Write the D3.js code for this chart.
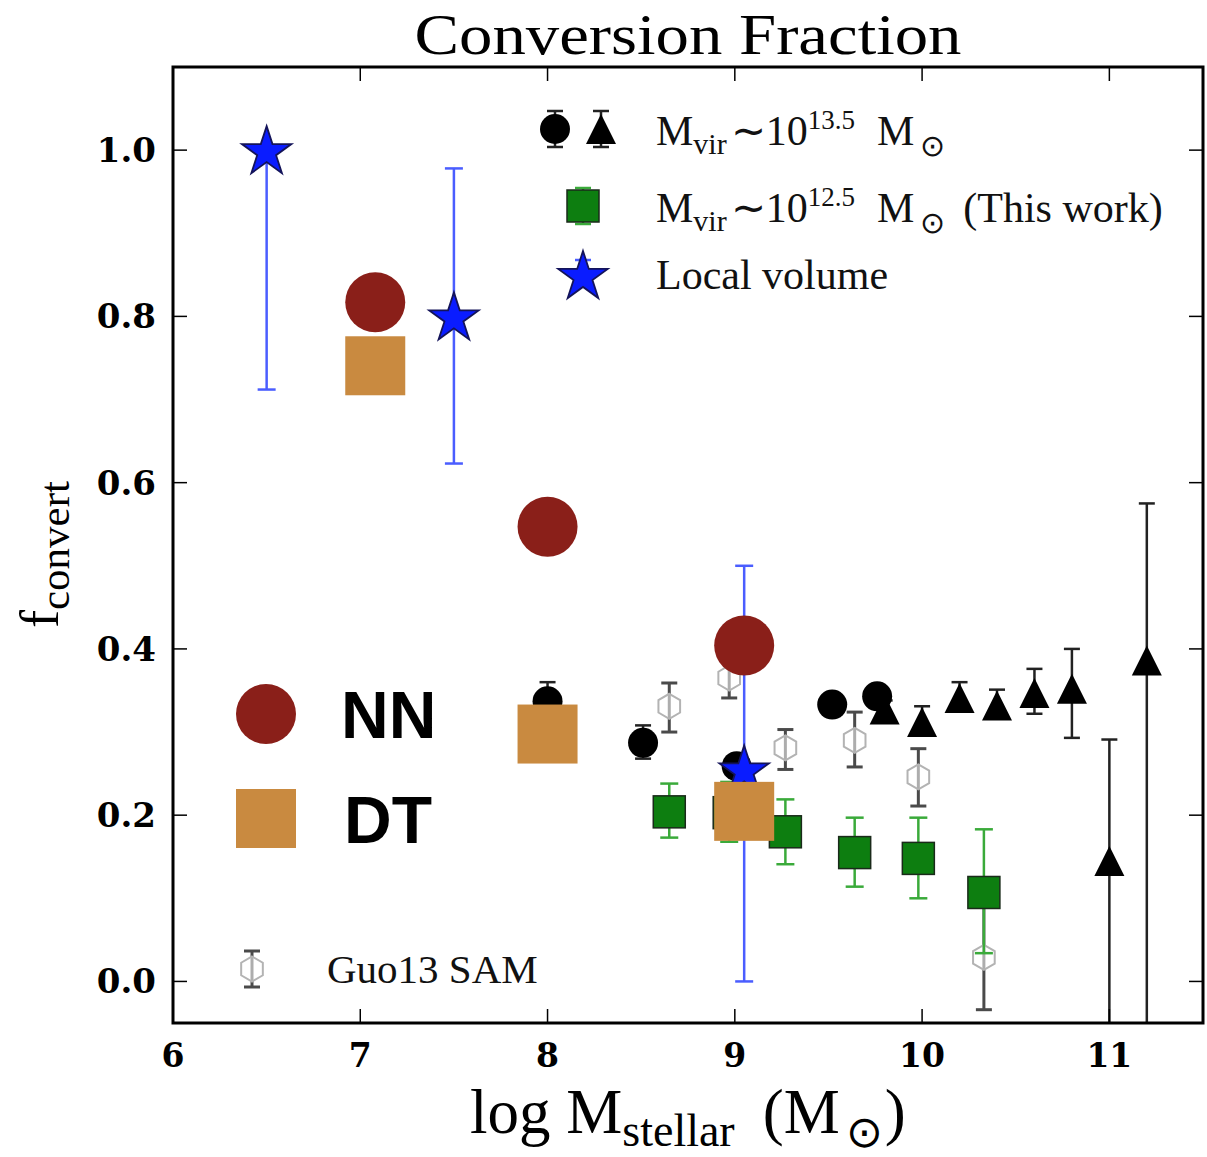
<!DOCTYPE html>
<html>
<head>
<meta charset="utf-8">
<script src="https://cdn.jsdelivr.net/npm/d3@7/dist/d3.min.js"></script>
<style>
  html, body { margin: 0; padding: 0; background: #fff; }
  svg { display: block; }
</style>
</head>
<body>
<svg id="chart" width="1207" height="1157"></svg>
<script>
// ---- data -------------------------------------------------------------
// Mvir ~ 10^13.5 groups: circles
const groupCircleX  = [8.0, 8.51, 9.01, 9.52, 9.76];
const groupCircleY  = [0.337, 0.287, 0.259, 0.333, 0.343];
const groupCircleLo = [0.315, 0.268, 0.245, 0.320, 0.330];
const groupCircleHi = [0.360, 0.308, 0.272, 0.346, 0.356];
// Mvir ~ 10^13.5 groups: triangles
const groupTriX  = [9.8, 10.0, 10.2, 10.4, 10.6, 10.8, 11.0, 11.2];
const groupTriY  = [0.327, 0.312, 0.341, 0.332, 0.347, 0.352, 0.145, 0.386];
const groupTriLo = [0.315, 0.300, 0.330, 0.320, 0.322, 0.293, -0.10, -0.10];
const groupTriHi = [0.338, 0.331, 0.360, 0.351, 0.376, 0.400, 0.291, 0.575];
// Mvir ~ 10^12.5 (this work): green squares
const thisWorkX  = [8.65, 8.97, 9.27, 9.64, 9.98, 10.33];
const thisWorkY  = [0.204, 0.203, 0.180, 0.155, 0.148, 0.107];
const thisWorkLo = [0.173, 0.168, 0.141, 0.114, 0.100, 0.034];
const thisWorkHi = [0.238, 0.240, 0.219, 0.197, 0.197, 0.183];
// Local volume: stars
const localX  = [6.5, 7.5, 9.05];
const localY  = [1.0, 0.8, 0.255];
const localLo = [0.712, 0.623, 0.0];
const localHi = [1.0, 0.978, 0.5];
// Guo13 SAM: open hexagons
const samX  = [8.65, 8.97, 9.27, 9.64, 9.98, 10.33];
const samY  = [0.331, 0.365, 0.281, 0.290, 0.246, 0.029];
const samLo = [0.300, 0.341, 0.255, 0.258, 0.211, -0.034];
const samHi = [0.359, 0.390, 0.303, 0.324, 0.280, 0.100];
// NN and DT estimates
const nnX = [7.08, 8.0, 9.05];
const nnY = [0.817, 0.547, 0.404];
const dtX = [7.08, 8.0, 9.05];
const dtY = [0.740, 0.297, 0.204];
// axis ticks
const xTicks = [6, 7, 8, 9, 10, 11];
const yTicks = [0.0, 0.2, 0.4, 0.6, 0.8, 1.0];

// ---- layout ------------------------------------------------------------
const svg = d3.select("#chart");
const boxL = 173, boxR = 1203, boxT = 67, boxB = 1023;
const x = d3.scaleLinear().domain([6, 11.5]).range([boxL, boxR]);
const y = d3.scaleLinear().domain([-0.05, 1.1]).range([boxB, boxT]);

const serif = "'Liberation Serif', 'Times New Roman', serif";
const boldSerif = "'DejaVu Serif', serif";

const colNN = "#8a1f19", colDT = "#c98a40";
const colGreen = "#0d7e10", colGreenErr = "#3aaa3a";
const colStar = "#0a1cff", colStarErr = "#4a5dff";

function zip(xs, ys, lo, hi) {
  return xs.map((v, i) => ({x: v, y: ys[i], lo: lo ? lo[i] : null, hi: hi ? hi[i] : null}));
}

function starPath(R) {
  const r = R * 0.382, pts = [];
  for (let i = 0; i < 10; i++) {
    const a = -Math.PI / 2 + i * Math.PI / 5;
    const rr = i % 2 === 0 ? R : r;
    pts.push([rr * Math.cos(a), rr * Math.sin(a)]);
  }
  return "M" + pts.map(p => p.join(",")).join("L") + "Z";
}
function hexPath(r) {
  const pts = [];
  for (let i = 0; i < 6; i++) {
    const a = -Math.PI / 2 + i * Math.PI / 3;
    pts.push([r * Math.cos(a), r * Math.sin(a)]);
  }
  return "M" + pts.map(p => p.join(",")).join("L") + "Z";
}
function triPath(s) {
  return `M0,${-s/2}L${s/2},${s/2}L${-s/2},${s/2}Z`;
}

// clip to the axes box
svg.append("defs").append("clipPath").attr("id", "plotClip")
  .append("rect").attr("x", boxL).attr("y", boxT)
  .attr("width", boxR - boxL).attr("height", boxB - boxT);

const plot = svg.append("g").attr("clip-path", "url(#plotClip)");

function errorBars(g, data, color, width, capHalf) {
  const eg = g.append("g");
  eg.selectAll("line.v").data(data).join("line")
    .attr("x1", d => x(d.x)).attr("x2", d => x(d.x))
    .attr("y1", d => y(d.lo)).attr("y2", d => y(d.hi))
    .attr("stroke", color).attr("stroke-width", width);
  const caps = [];
  data.forEach(d => { caps.push({x: d.x, v: d.lo}); caps.push({x: d.x, v: d.hi}); });
  eg.selectAll("line.c").data(caps).join("line")
    .attr("x1", d => x(d.x) - capHalf).attr("x2", d => x(d.x) + capHalf)
    .attr("y1", d => y(d.v)).attr("y2", d => y(d.v))
    .attr("stroke", color).attr("stroke-width", width);
}

// Guo13 SAM
const sam = zip(samX, samY, samLo, samHi);
errorBars(plot, sam, "#4a4a4a", 3, 8);
plot.append("g").selectAll("path").data(sam).join("path")
  .attr("d", hexPath(12.5))
  .attr("transform", d => `translate(${x(d.x)},${y(d.y)})`)
  .attr("fill", "rgba(255,255,255,0.55)").attr("stroke", "#b3b3b3").attr("stroke-width", 2);

// massive groups
const gc = zip(groupCircleX, groupCircleY, groupCircleLo, groupCircleHi);
const gt = zip(groupTriX, groupTriY, groupTriLo, groupTriHi);
errorBars(plot, gt, "#222", 2.5, 8);
plot.append("g").selectAll("path").data(gt).join("path")
  .attr("d", triPath(30))
  .attr("transform", d => `translate(${x(d.x)},${y(d.y)})`)
  .attr("fill", "#000");
errorBars(plot, gc, "#222", 2.5, 8);
plot.append("g").selectAll("circle").data(gc).join("circle")
  .attr("cx", d => x(d.x)).attr("cy", d => y(d.y)).attr("r", 15)
  .attr("fill", "#000");

// this work
const tw = zip(thisWorkX, thisWorkY, thisWorkLo, thisWorkHi);
errorBars(plot, tw, colGreenErr, 2.5, 9);
plot.append("g").selectAll("rect").data(tw).join("rect")
  .attr("x", d => x(d.x) - 16).attr("y", d => y(d.y) - 16)
  .attr("width", 32).attr("height", 32)
  .attr("fill", colGreen).attr("stroke", "#1a2a1a").attr("stroke-width", 1.5);

// local volume
const lv = zip(localX, localY, localLo, localHi);
errorBars(plot, lv, colStarErr, 2.5, 9);
plot.append("g").selectAll("path").data(lv).join("path")
  .attr("d", starPath(26))
  .attr("transform", d => `translate(${x(d.x)},${y(d.y) + 2})`)
  .attr("fill", colStar).attr("stroke", "#14145a").attr("stroke-width", 1.8);

// NN / DT estimates
const dt = zip(dtX, dtY);
const nn = zip(nnX, nnY);
plot.append("g").selectAll("rect").data(dt).join("rect")
  .attr("x", d => x(d.x) - 30).attr("y", d => y(d.y) - 30)
  .attr("width", 60).attr("height", 59).attr("fill", colDT);
plot.append("g").selectAll("circle").data(nn).join("circle")
  .attr("cx", d => x(d.x)).attr("cy", d => y(d.y)).attr("r", 30)
  .attr("fill", colNN);

// ---- axes --------------------------------------------------------------
const axes = svg.append("g");
const tickLen = 14;
axes.selectAll("line.xb").data(xTicks).join("line")
  .attr("x1", d => x(d)).attr("x2", d => x(d))
  .attr("y1", boxB).attr("y2", boxB - tickLen)
  .attr("stroke", "#000").attr("stroke-width", 1.5);
axes.selectAll("line.xt").data(xTicks).join("line")
  .attr("x1", d => x(d)).attr("x2", d => x(d))
  .attr("y1", boxT).attr("y2", boxT + tickLen)
  .attr("stroke", "#000").attr("stroke-width", 1.5);
axes.selectAll("line.yl").data(yTicks).join("line")
  .attr("x1", boxL).attr("x2", boxL + tickLen)
  .attr("y1", d => y(d)).attr("y2", d => y(d))
  .attr("stroke", "#000").attr("stroke-width", 1.5);
axes.selectAll("line.yr").data(yTicks).join("line")
  .attr("x1", boxR).attr("x2", boxR - tickLen)
  .attr("y1", d => y(d)).attr("y2", d => y(d))
  .attr("stroke", "#000").attr("stroke-width", 1.5);
axes.append("rect")
  .attr("x", boxL).attr("y", boxT).attr("width", boxR - boxL).attr("height", boxB - boxT)
  .attr("fill", "none").attr("stroke", "#000").attr("stroke-width", 3);

axes.selectAll("text.xl").data(xTicks).join("text")
  .attr("x", d => x(d)).attr("y", 1067)
  .attr("text-anchor", "middle")
  .attr("font-family", boldSerif).attr("font-weight", "bold").attr("font-size", 33)
  .text(d => d3.format("d")(d));
axes.selectAll("text.yl").data(yTicks).join("text")
  .attr("x", 156).attr("y", d => y(d) + 12)
  .attr("text-anchor", "end")
  .attr("font-family", boldSerif).attr("font-weight", "bold").attr("font-size", 34)
  .text(d => d3.format(".1f")(d));

// title
svg.append("text").attr("x", 688).attr("y", 54).attr("text-anchor", "middle")
  .attr("font-family", serif).attr("font-size", 58)
  .attr("textLength", 547).attr("lengthAdjust", "spacingAndGlyphs")
  .text("Conversion Fraction");

// x label
const xl = svg.append("text").attr("x", 470).attr("y", 1133)
  .attr("font-family", serif).attr("font-size", 63);
xl.append("tspan").text("log M");
xl.append("tspan").attr("dy", 13).attr("font-size", 46).text("stellar");
xl.append("tspan").attr("dy", -13).attr("dx", 28).text("(M");
xl.append("tspan").attr("dy", 14).attr("dx", 6).attr("font-size", 44).text("⊙");
xl.append("tspan").attr("dy", -14).attr("dx", 2).text(")");

// y label
const yl = svg.append("text")
  .attr("transform", "translate(58,628) rotate(-90)")
  .attr("font-family", serif).attr("font-size", 54);
yl.append("tspan").text("f");
yl.append("tspan").attr("dy", 11).attr("font-size", 43).text("convert");

// ---- legend (top right) -----------------------------------------------
const lg = svg.append("g");
function legendErr(cx, cy, half, color, w) {
  lg.append("line").attr("x1", cx).attr("x2", cx).attr("y1", cy - half).attr("y2", cy + half)
    .attr("stroke", color).attr("stroke-width", w);
  [cy - half, cy + half].forEach(v => lg.append("line")
    .attr("x1", cx - 8).attr("x2", cx + 8).attr("y1", v).attr("y2", v)
    .attr("stroke", color).attr("stroke-width", w));
}
legendErr(555, 129, 18, "#222", 2.5);
lg.append("circle").attr("cx", 555).attr("cy", 129).attr("r", 15).attr("fill", "#000");
legendErr(601, 129, 18, "#222", 2.5);
lg.append("path").attr("d", triPath(30)).attr("transform", "translate(601,129)").attr("fill", "#000");
legendErr(583, 206, 18, colGreenErr, 2.5);
lg.append("rect").attr("x", 567).attr("y", 190).attr("width", 32).attr("height", 32)
  .attr("fill", colGreen).attr("stroke", "#1a2a1a").attr("stroke-width", 1.5);
legendErr(583, 273, 13, colStarErr, 2.5);
lg.append("path").attr("d", starPath(26)).attr("transform", "translate(583,277)")
  .attr("fill", colStar).attr("stroke", "#14145a").attr("stroke-width", 1.8);

function mvirLabel(yb, power, extra) {
  const t = lg.append("text").attr("x", 656).attr("y", yb)
    .attr("font-family", serif).attr("font-size", 42).attr("fill", "#111");
  t.append("tspan").text("M");
  t.append("tspan").attr("dy", 9).attr("font-size", 30).text("vir");
  t.append("tspan").attr("dy", -9).attr("dx", 4).text("∼10");
  t.append("tspan").attr("dy", -16).attr("font-size", 27).text(power);
  t.append("tspan").attr("dy", 16).attr("dx", 22).text("M");
  t.append("tspan").attr("dy", 11).attr("dx", 6).attr("font-size", 30).text("⊙");
  t.append("tspan").attr("dy", -11).attr("dx", 18).text(extra);
}
mvirLabel(145, "13.5", "");
mvirLabel(222, "12.5", "(This work)");
lg.append("text").attr("x", 656).attr("y", 289)
  .attr("font-family", serif).attr("font-size", 42).attr("fill", "#111").text("Local volume");

// Guo13 SAM legend
legendErr(252, 969, 18, "#4a4a4a", 3);
lg.append("path").attr("d", hexPath(12.5)).attr("transform", "translate(252,969)")
  .attr("fill", "rgba(255,255,255,0.55)").attr("stroke", "#b3b3b3").attr("stroke-width", 2);
lg.append("text").attr("x", 327).attr("y", 983)
  .attr("font-family", serif).attr("font-size", 41).attr("fill", "#111").text("Guo13 SAM");

// NN / DT legend
lg.append("circle").attr("cx", 266).attr("cy", 714).attr("r", 30).attr("fill", colNN);
lg.append("rect").attr("x", 236).attr("y", 789).attr("width", 60).attr("height", 59).attr("fill", colDT);
lg.append("text").attr("x", 341).attr("y", 738)
  .attr("font-family", "'Liberation Sans', Arial, sans-serif").attr("font-weight", "bold")
  .attr("font-size", 66).text("NN");
lg.append("text").attr("x", 344).attr("y", 843)
  .attr("font-family", "'Liberation Sans', Arial, sans-serif").attr("font-weight", "bold")
  .attr("font-size", 66).text("DT");
</script>
</body>
</html>
